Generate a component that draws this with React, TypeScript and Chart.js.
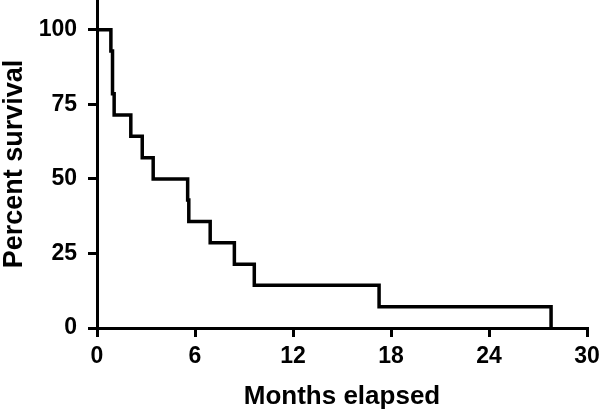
import React, { useEffect, useRef } from "react";
import { Chart, registerables } from "chart.js";

Chart.register(...registerables);

// Kaplan-Meier steps: survival (%) becomes the value at the given month
const months = [0, 0.85, 0.95, 1.05, 2.07, 2.77, 3.44, 5.55, 5.62, 6.93, 8.41, 9.63, 17.27, 27.8];
const survival = [100, 92.9, 78.6, 71.4, 64.3, 57.1, 50, 42.9, 35.7, 28.6, 21.4, 14.3, 7.1, 0];
const xTicks = [0, 6, 12, 18, 24, 30];
const yTicks = [0, 25, 50, 75, 100];

const FONT = '"Liberation Sans", Arial, Helvetica, sans-serif';

export default function App() {
  const ref = useRef<HTMLCanvasElement | null>(null);

  useEffect(() => {
    if (!ref.current) return;
    const chart = new Chart(ref.current, {
      type: "line",
      data: {
        datasets: [
          {
            data: months.map((m, i) => ({ x: m, y: survival[i] })),
            borderColor: "#000",
            borderWidth: 3.5,
            pointRadius: 0,
            stepped: true,
            fill: false,
          },
        ],
      },
      options: {
        animation: false,
        responsive: false,
        layout: { padding: { top: 0, left: 0, right: 13, bottom: 0 } },
        plugins: { legend: { display: false }, tooltip: { enabled: false } },
        scales: {
          x: {
            type: "linear",
            min: 0,
            max: 30,
            afterBuildTicks: (s: any) => {
              s.ticks = xTicks.map((v) => ({ value: v }));
            },
            afterFit: (s: any) => {
              s.height = 83;
              s.paddingLeft = 0;
              s.paddingRight = 13;
            },
            ticks: {
              color: "#000",
              font: { family: FONT, size: 23, weight: "bold" },
              padding: 6,
              maxRotation: 0,
              autoSkip: false,
            },
            grid: {
              drawOnChartArea: false,
              drawTicks: true,
              tickLength: 9,
              tickWidth: 3,
              tickColor: "#000",
              color: "#000",
              lineWidth: 3,
            },
            border: { display: true, color: "#000", width: 3 },
            title: {
              display: true,
              text: "Months elapsed",
              color: "#000",
              font: { family: FONT, size: 26, weight: "bold", lineHeight: 1 },
              padding: { top: 0, bottom: 1 },
            },
          },
          y: {
            type: "linear",
            min: 0,
            max: 110,
            afterBuildTicks: (s: any) => {
              s.ticks = yTicks.map((v) => ({ value: v }));
            },
            afterFit: (s: any) => {
              s.width = 97;
              s.paddingTop = 0;
              s.paddingBottom = 0;
            },
            ticks: {
              color: "#000",
              font: { family: FONT, size: 23, weight: "bold" },
              padding: 11,
            },
            grid: {
              drawOnChartArea: false,
              drawTicks: true,
              tickLength: 9,
              tickWidth: 3,
              tickColor: "#000",
              color: "#000",
              lineWidth: 3,
            },
            border: { display: true, color: "#000", width: 3 },
            title: {
              display: true,
              text: "Percent survival",
              color: "#000",
              font: { family: FONT, size: 27, weight: "bold", lineHeight: 1 },
              padding: { top: 1, bottom: 0 },
            },
          },
        },
      },
    } as any);
    return () => chart.destroy();
  }, []);

  return (
    <div style={{ position: "absolute", left: 0, top: 0, width: 600, height: 411, background: "#fff" }}>
      <canvas ref={ref} width={600} height={411} style={{ width: 600, height: 411, display: "block" }} />
    </div>
  );
}
